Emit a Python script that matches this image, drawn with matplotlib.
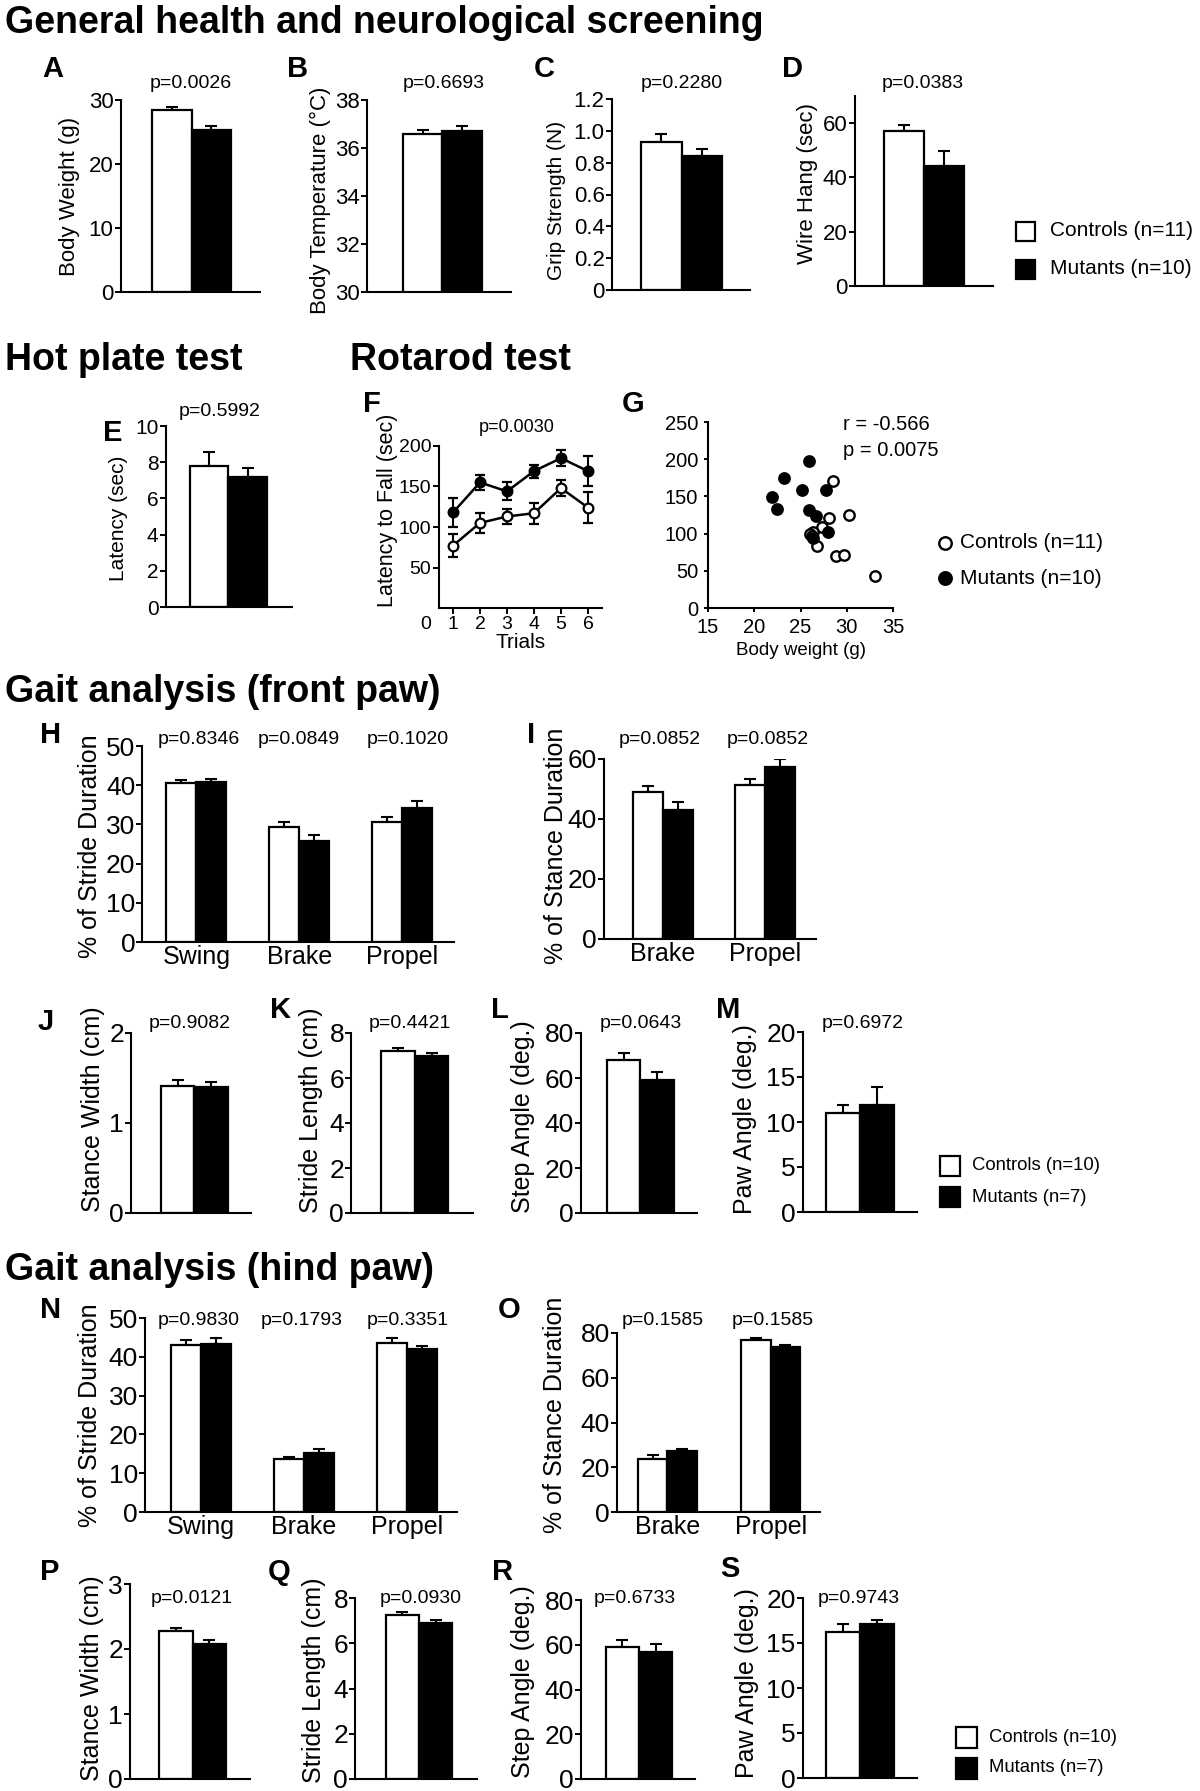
import numpy as np
import matplotlib
matplotlib.use("Agg")
import matplotlib.pyplot as plt
from matplotlib.patches import Rectangle
from matplotlib.lines import Line2D

plt.rcParams['font.family'] = ['Liberation Sans', 'DejaVu Sans']

# ---- data: [controls, mutants] means and SEM ----
groups_ab = ['Controls (n=11)', 'Mutants (n=10)']
groups_gait = ['Controls (n=10)', 'Mutants (n=7)']

body_weight, body_weight_err = [28.4, 25.3], [0.5, 0.6]
body_temp, body_temp_err = [36.6, 36.7], [0.17, 0.22]
grip, grip_err = [0.93, 0.84], [0.05, 0.045]
wire_hang, wire_hang_err = [57.0, 44.2], [2.5, 5.4]
hot_plate, hot_plate_err = [7.8, 7.2], [0.75, 0.5]

trials = [1, 2, 3, 4, 5, 6]
rotarod_ctrl = [77, 105, 113, 117, 148, 124]
rotarod_ctrl_err = [14, 12, 9, 13, 10, 19]
rotarod_mut = [118, 155, 144, 169, 185, 169]
rotarod_mut_err = [18, 9, 11, 8, 10, 19]

ctrl_bw = [28.5, 30.2, 28.1, 27.3, 26.4, 26.0, 26.2, 26.8, 28.8, 29.7, 33.1]
ctrl_lat = [171, 125, 121, 109, 102, 100, 97, 83, 70, 71, 43]
mut_bw = [21.9, 22.5, 23.2, 25.2, 25.9, 25.9, 26.7, 27.8, 28.0, 26.3]
mut_lat = [149, 133, 175, 159, 197, 132, 123, 159, 102, 94]

phases3 = ['Swing', 'Brake', 'Propel']
phases2 = ['Brake', 'Propel']

front_stride_ctrl, front_stride_ctrl_err = [40.5, 29.4, 30.5], [0.7, 1.3, 1.3]
front_stride_mut, front_stride_mut_err = [40.8, 25.7, 34.2], [0.8, 1.5, 1.7]
front_stance_ctrl, front_stance_ctrl_err = [49.0, 51.2], [2.0, 2.1]
front_stance_mut, front_stance_mut_err = [43.1, 57.3], [2.7, 2.6]
front_width, front_width_err = [1.41, 1.40], [0.07, 0.06]
front_length, front_length_err = [7.19, 7.0], [0.15, 0.12]
front_step, front_step_err = [68.1, 59.0], [3.0, 3.7]
front_paw, front_paw_err = [11.0, 11.9], [0.9, 2.0]

hind_stride_ctrl, hind_stride_ctrl_err = [43.1, 13.6, 43.5], [1.3, 0.7, 1.3]
hind_stride_mut, hind_stride_mut_err = [43.4, 15.3, 42.1], [1.4, 0.9, 0.8]
hind_stance_ctrl, hind_stance_ctrl_err = [23.8, 76.7], [1.5, 1.2]
hind_stance_mut, hind_stance_mut_err = [27.1, 73.8], [1.1, 0.9]
hind_width, hind_width_err = [2.28, 2.07], [0.04, 0.07]
hind_length, hind_length_err = [7.25, 6.9], [0.12, 0.12]
hind_step, hind_step_err = [58.8, 56.7], [3.4, 3.7]
hind_paw, hind_paw_err = [16.2, 17.1], [0.9, 0.5]

W, H = 1200, 1791
fig = plt.figure(figsize=(W / 100, H / 100), dpi=100)


def axes_px(x0, y0, x1, y1):
    ax = fig.add_axes([x0 / W, 1 - y1 / H, (x1 - x0) / W, (y1 - y0) / H])
    ax.patch.set_alpha(0)
    for side in ('top', 'right'):
        ax.spines[side].set_visible(False)
    for side in ('left', 'bottom'):
        ax.spines[side].set_linewidth(1.5)
    return ax


def text_px(x, y, s, **kw):
    return fig.text(x / W, 1 - y / H, s, **kw)


def bar_panel(box, ctrl, ctrl_err, mut, mut_err, ylim, yticks, off, xmax,
              gap=0.0, cats=None, tick_fs=16, yticklabels=None):
    ax = axes_px(*box)
    n = len(ctrl)
    base = off + np.arange(n) * gap
    xc, xm = base + 0.5, base + 1.5
    ax.bar(xc, ctrl, width=1, color='white', edgecolor='black', linewidth=1.6, zorder=2)
    ax.bar(xm, mut, width=1, color='black', edgecolor='black', linewidth=1.6, zorder=2)
    for x, y, e in ((xc, ctrl, ctrl_err), (xm, mut, mut_err)):
        ax.errorbar(x, y, yerr=[np.zeros(n), e], fmt='none', ecolor='black',
                    elinewidth=1.5, capsize=4, capthick=1.5, zorder=1)
    ax.set_xlim(0, xmax)
    ax.set_ylim(*ylim)
    ax.set_yticks(yticks)
    if yticklabels is not None:
        ax.set_yticklabels(yticklabels)
    ax.tick_params(axis='y', direction='out', length=4.5, width=1.4, pad=0.5,
                   labelsize=tick_fs)
    if cats:
        ax.set_xticks(base + 1.0)
        ax.set_xticklabels(cats, fontsize=18)
        ax.tick_params(axis='x', length=0, pad=2)
    else:
        ax.set_xticks([])
    return ax


def legend_squares(x, ys, labels, size, fs, gap):
    for y, lab, fc in zip(ys, labels, ['white', 'black']):
        fig.add_artist(Rectangle((x / W, 1 - (y + size / 2) / H), size / W, size / H,
                                 transform=fig.transFigure, facecolor=fc,
                                 edgecolor='black', linewidth=1.6))
        text_px(x + size + gap, y, lab, ha='left', va='center', fontsize=fs)


def title(x, y, s):
    text_px(x, y, s, fontsize=27, fontweight='bold', va='baseline', ha='left')


def letter(x, y, s):
    text_px(x, y, s, fontsize=21, fontweight='bold', va='baseline', ha='left')


def ylab(x, y, s, fs):
    text_px(x, y, s, rotation=90, ha='center', va='center', fontsize=fs)


def ptext(x, y, s, fs=14):
    text_px(x, y, s, ha='center', va='baseline', fontsize=fs)


# ---------------- General health ----------------
title(5, 33, 'General health and neurological screening')

bar_panel((120.5, 100, 259.5, 292), body_weight[:1], body_weight_err[:1],
          body_weight[1:], body_weight_err[1:], (0, 30), [0, 10, 20, 30], 0.8, 3.52)
letter(42, 77, 'A'); ylab(69, 196, 'Body Weight (g)', 16); ptext(191, 88, 'p=0.0026')

bar_panel((367, 100, 511, 292), body_temp[:1], body_temp_err[:1],
          body_temp[1:], body_temp_err[1:], (30, 38), [30, 32, 34, 36, 38], 0.91, 3.65)
letter(287, 77, 'B'); ylab(320, 200, 'Body Temperature (°C)', 16); ptext(444, 88, 'p=0.6693')

bar_panel((611.5, 99, 750, 290), grip[:1], grip_err[:1], grip[1:], grip_err[1:],
          (0, 1.2), [0, 0.2, 0.4, 0.6, 0.8, 1.0, 1.2], 0.73, 3.42,
          yticklabels=['0', '0.2', '0.4', '0.6', '0.8', '1.0', '1.2'])
letter(534, 77, 'C'); ylab(557, 200, 'Grip Strength (N)', 15); ptext(682, 88, 'p=0.2280')

bar_panel((854.5, 96, 993, 286), wire_hang[:1], wire_hang_err[:1],
          wire_hang[1:], wire_hang_err[1:], (0, 70), [0, 20, 40, 60], 0.74, 3.46)
letter(782, 77, 'D'); ylab(807, 184, 'Wire Hang (sec)', 16); ptext(923, 88, 'p=0.0383')

legend_squares(1016, [231, 269], groups_ab, 19, 15, 15)

# ---------------- Hot plate ----------------
title(5, 370, 'Hot plate test')
bar_panel((165.5, 426, 292, 607), hot_plate[:1], hot_plate_err[:1],
          hot_plate[1:], hot_plate_err[1:], (0, 10), [0, 2, 4, 6, 8, 10], 0.62, 3.26,
          tick_fs=15)
letter(103, 441, 'E'); ylab(119, 518, 'Latency (sec)', 15); ptext(220, 416, 'p=0.5992')

# ---------------- Rotarod ----------------
title(350, 370, 'Rotarod test')
ax = axes_px(439, 446, 602, 608)
ax.errorbar(trials, rotarod_ctrl, yerr=rotarod_ctrl_err, fmt='-o', color='black',
            mfc='white', mec='black', ms=7, mew=1.6, lw=1.8, elinewidth=1.5,
            capsize=3.3, capthick=1.5, zorder=3)
ax.errorbar(trials, rotarod_mut, yerr=rotarod_mut_err, fmt='-o', color='black',
            mfc='black', mec='black', ms=7, mew=1.6, lw=1.8, elinewidth=1.5,
            capsize=3.3, capthick=1.5, zorder=3)
ax.set_xlim(0.48, 6.52)
ax.set_ylim(0, 200)
ax.set_xticks(trials)
ax.set_yticks([50, 100, 150, 200])
ax.tick_params(axis='both', direction='out', length=4, width=1.4, pad=1.5, labelsize=14)
ax.annotate('0', xy=(0, 0), xycoords=('data', 'axes fraction'), xytext=(0, -5.5),
            textcoords='offset points', ha='center', va='top', fontsize=14,
            annotation_clip=False)
ax.set_xlabel('Trials', fontsize=15, labelpad=0)
letter(363, 412, 'F'); ylab(387, 510, 'Latency to Fall (sec)', 15.5)
ptext(517, 432, 'p=0.0030', 13)

ax = axes_px(708, 422, 893, 608)
ax.plot(ctrl_bw, ctrl_lat, 'o', mfc='white', mec='black', ms=7.5, mew=1.7, zorder=3)
ax.plot(mut_bw, mut_lat, 'o', mfc='black', mec='black', ms=7.5, mew=1.7, zorder=3)
ax.set_xlim(15, 35)
ax.set_ylim(0, 250)
ax.set_xticks([15, 20, 25, 30, 35])
ax.set_yticks([0, 50, 100, 150, 200, 250])
ax.tick_params(axis='both', direction='out', length=3, width=1.4, pad=4, labelsize=14.5)
ax.set_xlabel('Body weight (g)', fontsize=13.5, labelpad=4)
letter(622, 412, 'G')
text_px(843, 425, 'r = -0.566', ha='left', va='center', fontsize=14.5)
text_px(843, 450, 'p = 0.0075', ha='left', va='center', fontsize=14.5)
for y, lab, fc in zip([543, 578], groups_ab, ['white', 'black']):
    fig.add_artist(Line2D([945 / W], [1 - y / H], transform=fig.transFigure, marker='o',
                          ms=9, mfc=fc, mec='black', mew=1.7, ls='none'))
    text_px(960, y, lab, ha='left', va='center', fontsize=15)

# ---------------- Gait front ----------------
title(5, 702, 'Gait analysis (front paw)')
bar_panel((142.4, 746, 453.5, 942), front_stride_ctrl, front_stride_ctrl_err,
          front_stride_mut, front_stride_mut_err, (0, 50), [0, 10, 20, 30, 40, 50],
          0.8, 10.37, gap=3.43, cats=phases3, tick_fs=19)
letter(40, 743, 'H'); ylab(90, 846, '% of Stride Duration', 18)
for x, s in zip([199, 298.5, 407.6], ['p=0.8346', 'p=0.0849', 'p=0.1020']):
    ptext(x, 744, s)

bar_panel((604, 759, 816, 939), front_stance_ctrl, front_stance_ctrl_err,
          front_stance_mut, front_stance_mut_err, (0, 60), [0, 20, 40, 60],
          0.97, 7.07, gap=3.4, cats=phases2, tick_fs=19)
letter(527, 743, 'I'); ylab(556, 846, '% of Stance Duration', 18)
for x, s in zip([660, 768], ['p=0.0852', 'p=0.0852']):
    ptext(x, 744, s)

bar_panel((131, 1033, 250.7, 1213), front_width[:1], front_width_err[:1],
          front_width[1:], front_width_err[1:], (0, 2), [0, 1, 2], 0.92, 3.62, tick_fs=19)
letter(38, 1030, 'J'); ylab(93, 1109, 'Stance Width (cm)', 18); ptext(189.4, 1028, 'p=0.9082')

bar_panel((351, 1033, 472.6, 1213), front_length[:1], front_length_err[:1],
          front_length[1:], front_length_err[1:], (0, 8), [0, 2, 4, 6, 8], 0.91, 3.63,
          tick_fs=19)
letter(270, 1018, 'K'); ylab(311, 1110, 'Stride Length (cm)', 18); ptext(410, 1028, 'p=0.4421')

bar_panel((581, 1033, 696.6, 1213), front_step[:1], front_step_err[:1],
          front_step[1:], front_step_err[1:], (0, 80), [0, 20, 40, 60, 80], 0.78, 3.47,
          tick_fs=19)
letter(491, 1018, 'L'); ylab(523, 1117, 'Step Angle (deg.)', 18); ptext(641, 1028, 'p=0.0643')

bar_panel((802.6, 1032, 917, 1212), front_paw[:1], front_paw_err[:1],
          front_paw[1:], front_paw_err[1:], (0, 20), [0, 5, 10, 15, 20], 0.69, 3.38,
          tick_fs=19)
letter(716, 1018, 'M'); ylab(745, 1119, 'Paw Angle (deg.)', 18); ptext(862.7, 1028, 'p=0.6972')

legend_squares(940, [1166, 1197], groups_gait, 20, 13.3, 12)

# ---------------- Gait hind ----------------
title(5, 1280, 'Gait analysis (hind paw)')
bar_panel((144.7, 1318, 457, 1512), hind_stride_ctrl, hind_stride_ctrl_err,
          hind_stride_mut, hind_stride_mut_err, (0, 50), [0, 10, 20, 30, 40, 50],
          0.88, 10.41, gap=3.43, cats=phases3, tick_fs=19)
letter(40, 1318, 'N'); ylab(90, 1415, '% of Stride Duration', 18)
for x, s in zip([199, 302, 407.6], ['p=0.9830', 'p=0.1793', 'p=0.3351']):
    ptext(x, 1325, s)

bar_panel((617, 1333, 820, 1512), hind_stance_ctrl, hind_stance_ctrl_err,
          hind_stance_mut, hind_stance_mut_err, (0, 80), [0, 20, 40, 60, 80],
          0.71, 6.88, gap=3.5, cats=phases2, tick_fs=19)
letter(498, 1318, 'O'); ylab(555, 1415, '% of Stance Duration', 18)
for x, s in zip([663, 773], ['p=0.1585', 'p=0.1585']):
    ptext(x, 1325, s)

bar_panel((130, 1584, 249.5, 1779), hind_width[:1], hind_width_err[:1],
          hind_width[1:], hind_width_err[1:], (0, 3), [0, 1, 2, 3], 0.89, 3.61, tick_fs=19)
letter(40, 1580, 'P'); ylab(92, 1678, 'Stance Width (cm)', 18); ptext(191.4, 1603, 'p=0.0121')

bar_panel((355, 1598, 476.5, 1779), hind_length[:1], hind_length_err[:1],
          hind_length[1:], hind_length_err[1:], (0, 8), [0, 2, 4, 6, 8], 0.92, 3.65,
          tick_fs=19)
letter(268, 1580, 'Q'); ylab(314, 1680, 'Stride Length (cm)', 18); ptext(421, 1603, 'p=0.0930')

bar_panel((581, 1600, 694.7, 1779), hind_step[:1], hind_step_err[:1],
          hind_step[1:], hind_step_err[1:], (0, 80), [0, 20, 40, 60, 80], 0.75, 3.43,
          tick_fs=19)
letter(492, 1580, 'R'); ylab(523, 1682, 'Step Angle (deg.)', 18); ptext(635, 1603, 'p=0.6733')

bar_panel((802.6, 1598, 917, 1778), hind_paw[:1], hind_paw_err[:1],
          hind_paw[1:], hind_paw_err[1:], (0, 20), [0, 5, 10, 15, 20], 0.69, 3.37,
          tick_fs=19)
letter(720, 1577, 'S'); ylab(747, 1683, 'Paw Angle (deg.)', 18); ptext(858.8, 1603, 'p=0.9743')

legend_squares(955.6, [1737, 1768], groups_gait, 21, 13.3, 12)

fig.savefig('out.png', dpi=100, facecolor='white')
